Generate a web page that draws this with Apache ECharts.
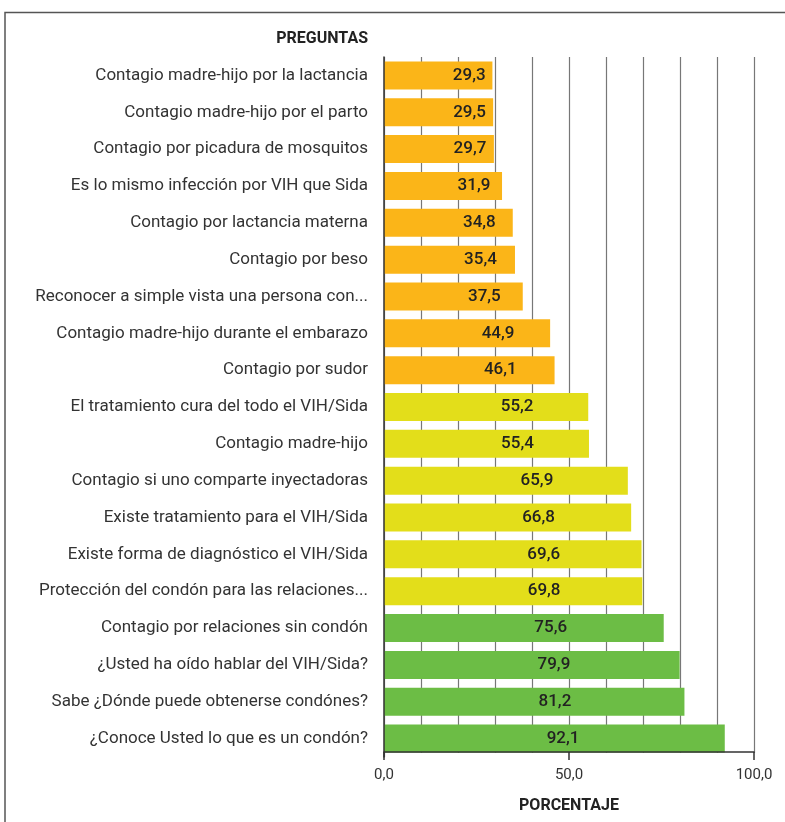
<!DOCTYPE html>
<html>
<head>
<meta charset="utf-8">
<script src="https://cdn.jsdelivr.net/npm/echarts@6/dist/echarts.min.js"></script>
<style>
html,body{margin:0;padding:0;background:#fff;}
#chart{width:785px;height:822px;}
</style>
</head>
<body>
<div id="chart"></div>
<script>
const categories = [
  "Contagio madre-hijo por la lactancia",
  "Contagio madre-hijo por el parto",
  "Contagio por picadura de mosquitos",
  "Es lo mismo infección por VIH que Sida",
  "Contagio por lactancia materna",
  "Contagio por beso",
  "Reconocer a simple vista una persona con...",
  "Contagio madre-hijo durante el embarazo",
  "Contagio por sudor",
  "El tratamiento cura del todo el VIH/Sida",
  "Contagio madre-hijo",
  "Contagio si uno comparte inyectadoras",
  "Existe tratamiento para el VIH/Sida",
  "Existe forma de diagnóstico el VIH/Sida",
  "Protección del condón para las relaciones...",
  "Contagio por relaciones sin condón",
  "¿Usted ha oído hablar del VIH/Sida?",
  "Sabe ¿Dónde puede obtenerse condónes?",
  "¿Conoce Usted lo que es un condón?"
];
const values = [29.3, 29.5, 29.7, 31.9, 34.8, 35.4, 37.5, 44.9, 46.1, 55.2, 55.4, 65.9, 66.8, 69.6, 69.8, 75.6, 79.9, 81.2, 92.1];
const groups = ["low","low","low","low","low","low","low","low","low","mid","mid","mid","mid","mid","mid","high","high","high","high"];
const xTickLabels = ["0,0", "50,0", "100,0"];

const groupColors = { low: "#FBB518", mid: "#E3DE1A", high: "#6CBD45" };
const FONT = "Roboto";

const seriesData = values.map((v, i) => ({
  value: v,
  itemStyle: { color: groupColors[groups[i]] },
  label: { offset: [Math.min(31, (100 - v) * 1.1), 0] }
}));

const chart = echarts.init(document.getElementById('chart'), null, { renderer: 'canvas' });
chart.setOption({
  animation: false,
  textStyle: { fontFamily: FONT },
  graphic: [
    {
      type: 'rect',
      shape: { x: 5, y: 12.5, width: 1000, height: 1000 },
      style: { fill: 'none', stroke: '#555', lineWidth: 1.5 },
      silent: true,
      z: -1
    },
    {
      type: 'rect',
      shape: { x: 386, y: 752.8, width: 380, height: 6 },
      style: { fill: '#fff' },
      silent: true,
      z: 1
    }
  ],
  grid: { left: 384, right: 31, top: 57, bottom: 65, containLabel: false, outerBoundsMode: 'none' },
  xAxis: [
    {
      type: 'value',
      min: 0, max: 100, interval: 50,
      position: 'bottom',
      offset: -5,
      z: 3,
      name: 'PORCENTAJE',
      nameLocation: 'middle',
      nameGap: 46,
      nameTextStyle: { fontFamily: FONT, fontSize: 16, fontWeight: 'bold', color: '#222' },
      axisLine: { show: true, lineStyle: { color: '#333', width: 1.5 } },
      axisTick: { show: true, length: 8, lineStyle: { color: '#333', width: 1.5 } },
      axisLabel: {
        color: '#333', fontSize: 15, fontFamily: FONT, margin: 16,
        formatter: (v) => xTickLabels[Math.round(v / 50)]
      },
      splitLine: { show: false }
    },
    {
      type: 'value',
      min: 0, max: 100, interval: 50,
      position: 'bottom',
      z: 0,
      axisLine: { show: false },
      axisTick: { show: false },
      axisLabel: { show: false },
      splitLine: { show: true, lineStyle: { color: '#777', width: 1.2 } },
      minorTick: { show: false, splitNumber: 5 },
      minorSplitLine: { show: true, lineStyle: { color: '#777', width: 1.2 } }
    }
  ],
  yAxis: {
    type: 'category',
    data: categories,
    inverse: true,
    z: 3,
    name: 'PREGUNTAS',
    nameLocation: 'start',
    nameGap: 10,
    nameTextStyle: { fontFamily: FONT, fontSize: 16, fontWeight: 'bold', color: '#222', align: 'right', padding: [0, 16, 0, 0] },
    axisLine: { show: true, lineStyle: { color: '#333', width: 1.5 } },
    axisTick: { show: false },
    axisLabel: { color: '#333', fontSize: 17, fontFamily: FONT, margin: 16 },
    splitLine: { show: false }
  },
  series: [{
    type: 'bar',
    xAxisIndex: 0,
    data: seriesData,
    barWidth: 28,
    z: 2,
    label: {
      show: true,
      position: 'inside',
      color: '#222',
      fontSize: 17,
      fontWeight: 500,
      fontFamily: FONT,
      formatter: (p) => p.value.toFixed(1).replace('.', ',')
    }
  }]
});
</script>
</body>
</html>
